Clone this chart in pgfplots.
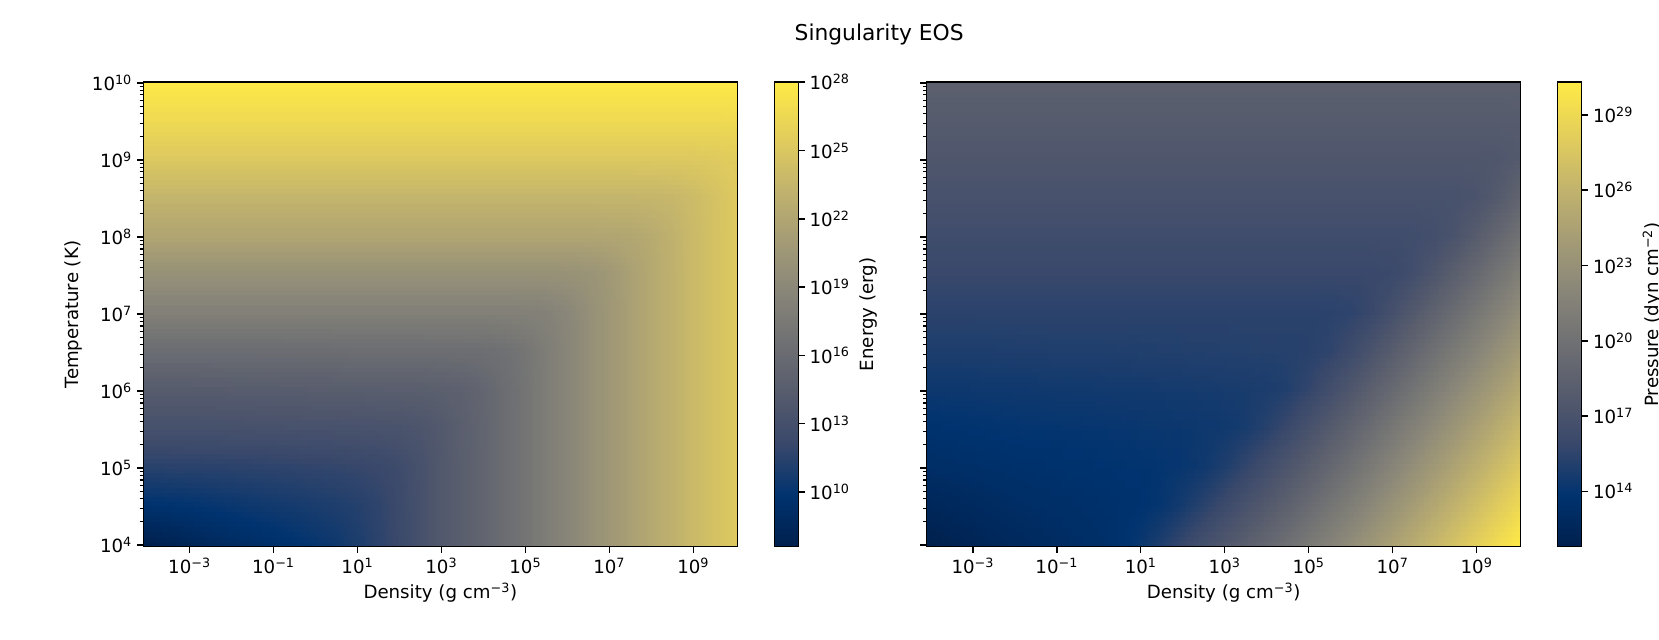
\documentclass[border=0pt]{standalone}
\usepackage{pgfplots}
\pgfplotsset{compat=1.18}
\usepgfplotslibrary{patchplots}
\usepackage{fontspec}
\setmainfont{DejaVu Sans}
\newcommand{\fs}{\fontsize{13.1}{15.7}\selectfont}
\pgfplotsset{
  colormap={cividis}{rgb255=(0,32,77) rgb255=(0,51,111) rgb255=(57,72,107) rgb255=(87,92,109) rgb255=(112,113,115) rgb255=(138,135,121) rgb255=(166,157,117) rgb255=(196,181,108) rgb255=(228,207,91) rgb255=(255,234,70)},
  eos/.style={
    scale only axis, width=427.7pt, height=334.4pt, anchor=south west,
    colormap name=cividis, axis on top, enlargelimits=false,
    xmin=-4.1, xmax=10.05, ymin=3.98, ymax=10.01,
    tick align=outside, xtick pos=bottom, ytick pos=left,
    major tick length=4.6pt, minor tick length=2.6pt,
    every major tick/.style={line width=1.05pt, black},
    every minor tick/.style={line width=0.8pt, black},
    axis line style={line width=1.05pt},
    xtick={-3,-1,1,3,5,7,9},
    xticklabels={10\textsuperscript{−3},10\textsuperscript{−1},10\textsuperscript{1},10\textsuperscript{3},10\textsuperscript{5},10\textsuperscript{7},10\textsuperscript{9}},
    ytick={4,5,6,7,8,9,10},
    minor ytick={4.301,4.477,4.602,4.699,4.778,4.845,4.903,4.954,5.301,5.477,5.602,5.699,5.778,5.845,5.903,5.954,6.301,6.477,6.602,6.699,6.778,6.845,6.903,6.954,7.301,7.477,7.602,7.699,7.778,7.845,7.903,7.954,8.301,8.477,8.602,8.699,8.778,8.845,8.903,8.954,9.301,9.477,9.602,9.699,9.778,9.845,9.903,9.954},
    xlabel={Density (g cm\textsuperscript{−3})},
    tick label style={font=\fs},
    label style={font=\fs},
    colorbar, colorbar/width=17.3pt,
  },
  cbar/.style={
    at={(parent axis.north east)}, anchor=north west, xshift=18.1pt,
    scale only axis, width=17.3pt, height=334.4pt,
    tick align=outside, ytick pos=right, yticklabel pos=right,
    major tick length=4.6pt,
    every major tick/.style={line width=1.05pt, black},
    axis line style={line width=1.05pt},
    tick label style={font=\fs},
    label style={font=\fs},
  },
}
\pgfplotstableread[row sep=\\]{
x y v\\
-4.1 3.98 7.6\\ -3.5 3.98 8.0\\ -3 3.98 8.35\\ -2.5 3.98 8.7\\ -2 3.98 9.0\\ -1.5 3.98 9.3\\ -1 3.98 9.56\\ -0.5 3.98 9.82\\ 0 3.98 10.12\\ 0.5 3.98 10.49\\ 1 3.98 10.98\\ 1.5 3.98 11.61\\ 2 3.98 12.32\\ 2.5 3.98 13.16\\ 3 3.98 14.0\\ 3.5 3.98 14.7\\ 4 3.98 15.4\\ 4.5 3.98 16.2\\ 5 3.98 17.0\\ 5.5 3.98 17.9\\ 6 3.98 18.8\\ 6.5 3.98 19.7\\ 7 3.98 20.6\\ 7.5 3.98 21.45\\ 8 3.98 22.3\\ 8.5 3.98 23.1\\ 9 3.98 23.9\\ 9.5 3.98 24.6\\ 10.05 3.98 25.3\\
-4.1 4.5 9.8\\ -3.5 4.5 9.9\\ -3 4.5 10.0\\ -2.5 4.5 10.15\\ -2 4.5 10.3\\ -1.5 4.5 10.45\\ -1 4.5 10.6\\ -0.5 4.5 10.75\\ 0 4.5 10.91\\ 0.5 4.5 11.09\\ 1 4.5 11.35\\ 1.5 4.5 11.76\\ 2 4.5 12.36\\ 2.5 4.5 13.16\\ 3 4.5 14.01\\ 3.5 4.5 14.7\\ 4 4.5 15.4\\ 4.5 4.5 16.2\\ 5 4.5 17.0\\ 5.5 4.5 17.9\\ 6 4.5 18.8\\ 6.5 4.5 19.7\\ 7 4.5 20.6\\ 7.5 4.5 21.45\\ 8 4.5 22.3\\ 8.5 4.5 23.1\\ 9 4.5 23.9\\ 9.5 4.5 24.6\\ 10.05 4.5 25.3\\
-4.1 5 11.5\\ -3.5 5 11.52\\ -3 5 11.55\\ -2.5 5 11.57\\ -2 5 11.6\\ -1.5 5 11.65\\ -1 5 11.7\\ -0.5 5 11.77\\ 0 5 11.85\\ 0.5 5 11.93\\ 1 5 12.03\\ 1.5 5 12.21\\ 2 5 12.55\\ 2.5 5 13.21\\ 3 5 14.01\\ 3.5 5 14.7\\ 4 5 15.4\\ 4.5 5 16.2\\ 5 5 17.0\\ 5.5 5 17.9\\ 6 5 18.8\\ 6.5 5 19.7\\ 7 5 20.6\\ 7.5 5 21.45\\ 8 5 22.3\\ 8.5 5 23.1\\ 9 5 23.9\\ 9.5 5 24.6\\ 10.05 5 25.3\\
-4.1 5.5 13.1\\ -3.5 5.5 13.1\\ -3 5.5 13.1\\ -2.5 5.5 13.12\\ -2 5.5 13.15\\ -1.5 5.5 13.17\\ -1 5.5 13.2\\ -0.5 5.5 13.22\\ 0 5.5 13.25\\ 0.5 5.5 13.27\\ 1 5.5 13.3\\ 1.5 5.5 13.36\\ 2 5.5 13.43\\ 2.5 5.5 13.63\\ 3 5.5 14.12\\ 3.5 5.5 14.73\\ 4 5.5 15.41\\ 4.5 5.5 16.2\\ 5 5.5 17.0\\ 5.5 5.5 17.9\\ 6 5.5 18.8\\ 6.5 5.5 19.7\\ 7 5.5 20.6\\ 7.5 5.5 21.45\\ 8 5.5 22.3\\ 8.5 5.5 23.1\\ 9 5.5 23.9\\ 9.5 5.5 24.6\\ 10.05 5.5 25.3\\
-4.1 6 14.4\\ -3.5 6 14.4\\ -3 6 14.4\\ -2.5 6 14.42\\ -2 6 14.45\\ -1.5 6 14.47\\ -1 6 14.5\\ -0.5 6 14.52\\ 0 6 14.55\\ 0.5 6 14.57\\ 1 6 14.6\\ 1.5 6 14.62\\ 2 6 14.65\\ 2.5 6 14.68\\ 3 6 14.78\\ 3.5 6 15.01\\ 4 6 15.49\\ 4.5 6 16.22\\ 5 6 17.0\\ 5.5 6 17.9\\ 6 6 18.8\\ 6.5 6 19.7\\ 7 6 20.6\\ 7.5 6 21.45\\ 8 6 22.3\\ 8.5 6 23.1\\ 9 6 23.9\\ 9.5 6 24.6\\ 10.05 6 25.3\\
-4.1 6.5 16.2\\ -3.5 6.5 16.2\\ -3 6.5 16.2\\ -2.5 6.5 16.2\\ -2 6.5 16.2\\ -1.5 6.5 16.2\\ -1 6.5 16.22\\ -0.5 6.5 16.23\\ 0 6.5 16.25\\ 0.5 6.5 16.27\\ 1 6.5 16.3\\ 1.5 6.5 16.3\\ 2 6.5 16.3\\ 2.5 6.5 16.32\\ 3 6.5 16.35\\ 3.5 6.5 16.36\\ 4 6.5 16.4\\ 4.5 6.5 16.6\\ 5 6.5 17.1\\ 5.5 6.5 17.91\\ 6 6.5 18.8\\ 6.5 6.5 19.7\\ 7 6.5 20.6\\ 7.5 6.5 21.45\\ 8 6.5 22.3\\ 8.5 6.5 23.1\\ 9 6.5 23.9\\ 9.5 6.5 24.6\\ 10.05 6.5 25.3\\
-4.1 7 18.2\\ -3.5 7 18.2\\ -3 7 18.2\\ -2.5 7 18.2\\ -2 7 18.2\\ -1.5 7 18.2\\ -1 7 18.2\\ -0.5 7 18.2\\ 0 7 18.2\\ 0.5 7 18.2\\ 1 7 18.2\\ 1.5 7 18.2\\ 2 7 18.2\\ 2.5 7 18.2\\ 3 7 18.2\\ 3.5 7 18.2\\ 4 7 18.2\\ 4.5 7 18.2\\ 5 7 18.23\\ 5.5 7 18.38\\ 6 7 18.9\\ 6.5 7 19.71\\ 7 7 20.6\\ 7.5 7 21.45\\ 8 7 22.3\\ 8.5 7 23.1\\ 9 7 23.9\\ 9.5 7 24.6\\ 10.05 7 25.3\\
-4.1 7.5 20.0\\ -3.5 7.5 20.0\\ -3 7.5 20.0\\ -2.5 7.5 20.0\\ -2 7.5 20.0\\ -1.5 7.5 20.0\\ -1 7.5 20.0\\ -0.5 7.5 20.0\\ 0 7.5 20.0\\ 0.5 7.5 20.0\\ 1 7.5 20.0\\ 1.5 7.5 20.0\\ 2 7.5 20.0\\ 2.5 7.5 20.0\\ 3 7.5 20.0\\ 3.5 7.5 20.0\\ 4 7.5 20.0\\ 4.5 7.5 20.0\\ 5 7.5 20.0\\ 5.5 7.5 20.0\\ 6 7.5 20.03\\ 6.5 7.5 20.18\\ 7 7.5 20.7\\ 7.5 7.5 21.47\\ 8 7.5 22.3\\ 8.5 7.5 23.1\\ 9 7.5 23.9\\ 9.5 7.5 24.6\\ 10.05 7.5 25.3\\
-4.1 8 22.0\\ -3.5 8 22.0\\ -3 8 22.0\\ -2.5 8 22.0\\ -2 8 22.0\\ -1.5 8 22.0\\ -1 8 22.0\\ -0.5 8 22.0\\ 0 8 22.0\\ 0.5 8 22.0\\ 1 8 22.0\\ 1.5 8 22.0\\ 2 8 22.0\\ 2.5 8 22.0\\ 3 8 22.0\\ 3.5 8 22.0\\ 4 8 22.0\\ 4.5 8 22.0\\ 5 8 22.0\\ 5.5 8 22.0\\ 6 8 22.0\\ 6.5 8 22.0\\ 7 8 22.02\\ 7.5 8 22.11\\ 8 8 22.48\\ 8.5 8 23.13\\ 9 8 23.91\\ 9.5 8 24.6\\ 10.05 8 25.3\\
-4.1 8.5 23.5\\ -3.5 8.5 23.5\\ -3 8.5 23.5\\ -2.5 8.5 23.5\\ -2 8.5 23.5\\ -1.5 8.5 23.5\\ -1 8.5 23.5\\ -0.5 8.5 23.5\\ 0 8.5 23.5\\ 0.5 8.5 23.5\\ 1 8.5 23.5\\ 1.5 8.5 23.5\\ 2 8.5 23.5\\ 2.5 8.5 23.5\\ 3 8.5 23.5\\ 3.5 8.5 23.5\\ 4 8.5 23.5\\ 4.5 8.5 23.5\\ 5 8.5 23.5\\ 5.5 8.5 23.5\\ 6 8.5 23.5\\ 6.5 8.5 23.5\\ 7 8.5 23.5\\ 7.5 8.5 23.5\\ 8 8.5 23.53\\ 8.5 8.5 23.65\\ 9 8.5 24.05\\ 9.5 8.5 24.63\\ 10.05 8.5 25.31\\
-4.1 9 25.2\\ -3.5 9 25.2\\ -3 9 25.2\\ -2.5 9 25.2\\ -2 9 25.2\\ -1.5 9 25.2\\ -1 9 25.2\\ -0.5 9 25.2\\ 0 9 25.2\\ 0.5 9 25.2\\ 1 9 25.2\\ 1.5 9 25.2\\ 2 9 25.2\\ 2.5 9 25.2\\ 3 9 25.2\\ 3.5 9 25.2\\ 4 9 25.2\\ 4.5 9 25.2\\ 5 9 25.2\\ 5.5 9 25.2\\ 6 9 25.2\\ 6.5 9 25.2\\ 7 9 25.2\\ 7.5 9 25.2\\ 8 9 25.2\\ 8.5 9 25.2\\ 9 9 25.22\\ 9.5 9 25.3\\ 10.05 9 25.55\\
-4.1 9.5 26.7\\ -3.5 9.5 26.7\\ -3 9.5 26.7\\ -2.5 9.5 26.7\\ -2 9.5 26.7\\ -1.5 9.5 26.7\\ -1 9.5 26.7\\ -0.5 9.5 26.7\\ 0 9.5 26.7\\ 0.5 9.5 26.7\\ 1 9.5 26.7\\ 1.5 9.5 26.7\\ 2 9.5 26.7\\ 2.5 9.5 26.7\\ 3 9.5 26.7\\ 3.5 9.5 26.7\\ 4 9.5 26.7\\ 4.5 9.5 26.7\\ 5 9.5 26.7\\ 5.5 9.5 26.7\\ 6 9.5 26.7\\ 6.5 9.5 26.7\\ 7 9.5 26.7\\ 7.5 9.5 26.7\\ 8 9.5 26.7\\ 8.5 9.5 26.7\\ 9 9.5 26.7\\ 9.5 9.5 26.7\\ 10.05 9.5 26.72\\
-4.1 10.01 28.0\\ -3.5 10.01 28.0\\ -3 10.01 28.0\\ -2.5 10.01 28.0\\ -2 10.01 28.0\\ -1.5 10.01 28.0\\ -1 10.01 28.0\\ -0.5 10.01 28.0\\ 0 10.01 28.0\\ 0.5 10.01 28.0\\ 1 10.01 28.0\\ 1.5 10.01 28.0\\ 2 10.01 28.0\\ 2.5 10.01 28.0\\ 3 10.01 28.0\\ 3.5 10.01 28.0\\ 4 10.01 28.0\\ 4.5 10.01 28.0\\ 5 10.01 28.0\\ 5.5 10.01 28.0\\ 6 10.01 28.0\\ 6.5 10.01 28.0\\ 7 10.01 28.0\\ 7.5 10.01 28.0\\ 8 10.01 28.0\\ 8.5 10.01 28.0\\ 9 10.01 28.0\\ 9.5 10.01 28.0\\ 10.05 10.01 28.0\\
}\energy
\pgfplotstableread[row sep=\\]{
x y v\\
-4.1 3.98 11.8\\ -3.5 3.98 12.1\\ -3 3.98 12.3\\ -2.5 3.98 12.55\\ -2 3.98 12.75\\ -1.5 3.98 12.95\\ -1 3.98 13.1\\ -0.5 3.98 13.26\\ 0 3.98 13.45\\ 0.5 3.98 13.73\\ 1 3.98 14.2\\ 1.5 3.98 14.98\\ 2 3.98 15.86\\ 2.5 3.98 16.65\\ 3 3.98 17.45\\ 3.5 3.98 18.25\\ 4 3.98 19.05\\ 4.5 3.98 19.85\\ 5 3.98 20.75\\ 5.5 3.98 21.65\\ 6 3.98 22.55\\ 6.5 3.98 23.5\\ 7 3.98 24.45\\ 7.5 3.98 25.4\\ 8 3.98 26.35\\ 8.5 3.98 27.3\\ 9 3.98 28.25\\ 9.5 3.98 29.25\\ 10.05 3.98 30.3\\
-4.1 4.5 12.6\\ -3.5 4.5 12.75\\ -3 4.5 12.9\\ -2.5 4.5 13.05\\ -2 4.5 13.2\\ -1.5 4.5 13.3\\ -1 4.5 13.4\\ -0.5 4.5 13.5\\ 0 4.5 13.6\\ 0.5 4.5 13.71\\ 1 4.5 13.83\\ 1.5 4.5 14.08\\ 2 4.5 14.62\\ 2.5 4.5 15.33\\ 3 4.5 16.11\\ 3.5 4.5 16.9\\ 4 4.5 17.7\\ 4.5 4.5 18.5\\ 5 4.5 19.4\\ 5.5 4.5 20.3\\ 6 4.5 21.2\\ 6.5 4.5 22.15\\ 7 4.5 23.1\\ 7.5 4.5 24.05\\ 8 4.5 25.0\\ 8.5 4.5 25.95\\ 9 4.5 26.9\\ 9.5 4.5 27.9\\ 10.05 4.5 29.0\\
-4.1 5 13.3\\ -3.5 5 13.4\\ -3 5 13.45\\ -2.5 5 13.52\\ -2 5 13.6\\ -1.5 5 13.67\\ -1 5 13.75\\ -0.5 5 13.8\\ 0 5 13.85\\ 0.5 5 13.9\\ 1 5 13.95\\ 1.5 5 14.03\\ 2 5 14.16\\ 2.5 5 14.42\\ 3 5 14.95\\ 3.5 5 15.67\\ 4 5 16.45\\ 4.5 5 17.25\\ 5 5 18.15\\ 5.5 5 19.05\\ 6 5 19.95\\ 6.5 5 20.9\\ 7 5 21.85\\ 7.5 5 22.8\\ 8 5 23.75\\ 8.5 5 24.7\\ 9 5 25.65\\ 9.5 5 26.65\\ 10.05 5 27.75\\
-4.1 5.5 13.8\\ -3.5 5.5 13.85\\ -3 5.5 13.9\\ -2.5 5.5 13.95\\ -2 5.5 14.0\\ -1.5 5.5 14.02\\ -1 5.5 14.05\\ -0.5 5.5 14.07\\ 0 5.5 14.1\\ 0.5 5.5 14.15\\ 1 5.5 14.2\\ 1.5 5.5 14.25\\ 2 5.5 14.3\\ 2.5 5.5 14.36\\ 3 5.5 14.46\\ 3.5 5.5 14.72\\ 4 5.5 15.26\\ 4.5 5.5 16.0\\ 5 5.5 16.88\\ 5.5 5.5 17.78\\ 6 5.5 18.68\\ 6.5 5.5 19.63\\ 7 5.5 20.58\\ 7.5 5.5 21.53\\ 8 5.5 22.48\\ 8.5 5.5 23.43\\ 9 5.5 24.38\\ 9.5 5.5 25.38\\ 10.05 5.5 26.48\\
-4.1 6 14.3\\ -3.5 6 14.32\\ -3 6 14.35\\ -2.5 6 14.37\\ -2 6 14.4\\ -1.5 6 14.42\\ -1 6 14.45\\ -0.5 6 14.47\\ 0 6 14.5\\ 0.5 6 14.52\\ 1 6 14.55\\ 1.5 6 14.57\\ 2 6 14.6\\ 2.5 6 14.65\\ 3 6 14.7\\ 3.5 6 14.76\\ 4 6 14.85\\ 4.5 6 15.08\\ 5 6 15.68\\ 5.5 6 16.51\\ 6 6 17.4\\ 6.5 6 18.35\\ 7 6 19.3\\ 7.5 6 20.25\\ 8 6 21.2\\ 8.5 6 22.15\\ 9 6 23.1\\ 9.5 6 24.1\\ 10.05 6 25.2\\
-4.1 6.5 14.9\\ -3.5 6.5 14.9\\ -3 6.5 14.9\\ -2.5 6.5 14.92\\ -2 6.5 14.95\\ -1.5 6.5 14.97\\ -1 6.5 15.0\\ -0.5 6.5 15.0\\ 0 6.5 15.0\\ 0.5 6.5 15.02\\ 1 6.5 15.05\\ 1.5 6.5 15.07\\ 2 6.5 15.1\\ 2.5 6.5 15.12\\ 3 6.5 15.15\\ 3.5 6.5 15.17\\ 4 6.5 15.2\\ 4.5 6.5 15.23\\ 5 6.5 15.3\\ 5.5 6.5 15.55\\ 6 6.5 16.19\\ 6.5 6.5 17.09\\ 7 6.5 18.03\\ 7.5 6.5 18.98\\ 8 6.5 19.93\\ 8.5 6.5 20.88\\ 9 6.5 21.83\\ 9.5 6.5 22.83\\ 10.05 6.5 23.93\\
-4.1 7 15.4\\ -3.5 7 15.4\\ -3 7 15.4\\ -2.5 7 15.4\\ -2 7 15.4\\ -1.5 7 15.4\\ -1 7 15.4\\ -0.5 7 15.4\\ 0 7 15.4\\ 0.5 7 15.4\\ 1 7 15.4\\ 1.5 7 15.4\\ 2 7 15.4\\ 2.5 7 15.4\\ 3 7 15.4\\ 3.5 7 15.4\\ 4 7 15.4\\ 4.5 7 15.4\\ 5 7 15.4\\ 5.5 7 15.42\\ 6 7 15.51\\ 6.5 7 15.95\\ 7 7 16.77\\ 7.5 7 17.7\\ 8 7 18.65\\ 8.5 7 19.6\\ 9 7 20.55\\ 9.5 7 21.55\\ 10.05 7 22.65\\
-4.1 7.5 15.9\\ -3.5 7.5 15.9\\ -3 7.5 15.9\\ -2.5 7.5 15.9\\ -2 7.5 15.9\\ -1.5 7.5 15.9\\ -1 7.5 15.9\\ -0.5 7.5 15.9\\ 0 7.5 15.9\\ 0.5 7.5 15.9\\ 1 7.5 15.9\\ 1.5 7.5 15.9\\ 2 7.5 15.9\\ 2.5 7.5 15.9\\ 3 7.5 15.9\\ 3.5 7.5 15.9\\ 4 7.5 15.9\\ 4.5 7.5 15.9\\ 5 7.5 15.9\\ 5.5 7.5 15.9\\ 6 7.5 15.9\\ 6.5 7.5 15.92\\ 7 7.5 16.04\\ 7.5 7.5 16.54\\ 8 7.5 17.39\\ 8.5 7.5 18.33\\ 9 7.5 19.28\\ 9.5 7.5 20.28\\ 10.05 7.5 21.38\\
-4.1 8 16.4\\ -3.5 8 16.4\\ -3 8 16.4\\ -2.5 8 16.4\\ -2 8 16.4\\ -1.5 8 16.4\\ -1 8 16.4\\ -0.5 8 16.4\\ 0 8 16.4\\ 0.5 8 16.4\\ 1 8 16.4\\ 1.5 8 16.4\\ 2 8 16.4\\ 2.5 8 16.4\\ 3 8 16.4\\ 3.5 8 16.4\\ 4 8 16.4\\ 4.5 8 16.4\\ 5 8 16.4\\ 5.5 8 16.4\\ 6 8 16.4\\ 6.5 8 16.4\\ 7 8 16.4\\ 7.5 8 16.42\\ 8 8 16.58\\ 8.5 8 17.14\\ 9 8 18.01\\ 9.5 8 19.0\\ 10.05 8 20.1\\
-4.1 8.5 16.9\\ -3.5 8.5 16.9\\ -3 8.5 16.9\\ -2.5 8.5 16.9\\ -2 8.5 16.9\\ -1.5 8.5 16.9\\ -1 8.5 16.9\\ -0.5 8.5 16.9\\ 0 8.5 16.9\\ 0.5 8.5 16.9\\ 1 8.5 16.9\\ 1.5 8.5 16.9\\ 2 8.5 16.9\\ 2.5 8.5 16.9\\ 3 8.5 16.9\\ 3.5 8.5 16.9\\ 4 8.5 16.9\\ 4.5 8.5 16.9\\ 5 8.5 16.9\\ 5.5 8.5 16.9\\ 6 8.5 16.9\\ 6.5 8.5 16.9\\ 7 8.5 16.9\\ 7.5 8.5 16.9\\ 8 8.5 16.9\\ 8.5 8.5 16.93\\ 9 8.5 17.12\\ 9.5 8.5 17.79\\ 10.05 8.5 18.83\\
-4.1 9 17.4\\ -3.5 9 17.4\\ -3 9 17.4\\ -2.5 9 17.4\\ -2 9 17.4\\ -1.5 9 17.4\\ -1 9 17.4\\ -0.5 9 17.4\\ 0 9 17.4\\ 0.5 9 17.4\\ 1 9 17.4\\ 1.5 9 17.4\\ 2 9 17.4\\ 2.5 9 17.4\\ 3 9 17.4\\ 3.5 9 17.4\\ 4 9 17.4\\ 4.5 9 17.4\\ 5 9 17.4\\ 5.5 9 17.4\\ 6 9 17.4\\ 6.5 9 17.4\\ 7 9 17.4\\ 7.5 9 17.4\\ 8 9 17.4\\ 8.5 9 17.4\\ 9 9 17.4\\ 9.5 9 17.45\\ 10.05 9 17.78\\
-4.1 9.5 17.9\\ -3.5 9.5 17.9\\ -3 9.5 17.9\\ -2.5 9.5 17.9\\ -2 9.5 17.9\\ -1.5 9.5 17.9\\ -1 9.5 17.9\\ -0.5 9.5 17.9\\ 0 9.5 17.9\\ 0.5 9.5 17.9\\ 1 9.5 17.9\\ 1.5 9.5 17.9\\ 2 9.5 17.9\\ 2.5 9.5 17.9\\ 3 9.5 17.9\\ 3.5 9.5 17.9\\ 4 9.5 17.9\\ 4.5 9.5 17.9\\ 5 9.5 17.9\\ 5.5 9.5 17.9\\ 6 9.5 17.9\\ 6.5 9.5 17.9\\ 7 9.5 17.9\\ 7.5 9.5 17.9\\ 8 9.5 17.9\\ 8.5 9.5 17.9\\ 9 9.5 17.9\\ 9.5 9.5 17.9\\ 10.05 9.5 17.91\\
-4.1 10.01 18.4\\ -3.5 10.01 18.4\\ -3 10.01 18.4\\ -2.5 10.01 18.4\\ -2 10.01 18.4\\ -1.5 10.01 18.4\\ -1 10.01 18.4\\ -0.5 10.01 18.4\\ 0 10.01 18.4\\ 0.5 10.01 18.4\\ 1 10.01 18.4\\ 1.5 10.01 18.4\\ 2 10.01 18.4\\ 2.5 10.01 18.4\\ 3 10.01 18.4\\ 3.5 10.01 18.4\\ 4 10.01 18.4\\ 4.5 10.01 18.4\\ 5 10.01 18.4\\ 5.5 10.01 18.4\\ 6 10.01 18.4\\ 6.5 10.01 18.4\\ 7 10.01 18.4\\ 7.5 10.01 18.4\\ 8 10.01 18.4\\ 8.5 10.01 18.4\\ 9 10.01 18.4\\ 9.5 10.01 18.4\\ 10.05 10.01 18.4\\
}\pressure
\begin{document}
\begin{tikzpicture}
\path[use as bounding box] (0,0) rectangle (1194.5pt,460.1pt);
\node[font=\fontsize{15.7}{18.8}\selectfont] at (633pt,435.6pt) {Singularity EOS};
\begin{axis}[eos, at={(103.2pt,66.5pt)},
  yticklabels={10\textsuperscript{4},10\textsuperscript{5},10\textsuperscript{6},10\textsuperscript{7},10\textsuperscript{8},10\textsuperscript{9},10\textsuperscript{10}},
  ylabel={Temperature (K)},
  point meta min=7.6, point meta max=28.0,
  colorbar style={cbar, ytick={10,13,16,19,22,25,28},
    yticklabels={10\textsuperscript{10},10\textsuperscript{13},10\textsuperscript{16},10\textsuperscript{19},10\textsuperscript{22},10\textsuperscript{25},10\textsuperscript{28}},
    ylabel={Energy (erg)}},
]
\addplot[surf, shader=interp, patch type=bilinear, mesh/cols=29, point meta=explicit] table[x=x, y=y, meta=v] {\energy};
\end{axis}
\begin{axis}[eos, at={(667.2pt,66.5pt)},
  yticklabels={},
  point meta min=11.8, point meta max=30.3,
  colorbar style={cbar, ytick={14,17,20,23,26,29},
    yticklabels={10\textsuperscript{14},10\textsuperscript{17},10\textsuperscript{20},10\textsuperscript{23},10\textsuperscript{26},10\textsuperscript{29}},
    ylabel={Pressure (dyn cm\textsuperscript{−2})}},
]
\addplot[surf, shader=interp, patch type=bilinear, mesh/cols=29, point meta=explicit] table[x=x, y=y, meta=v] {\pressure};
\end{axis}
\end{tikzpicture}
\end{document}
